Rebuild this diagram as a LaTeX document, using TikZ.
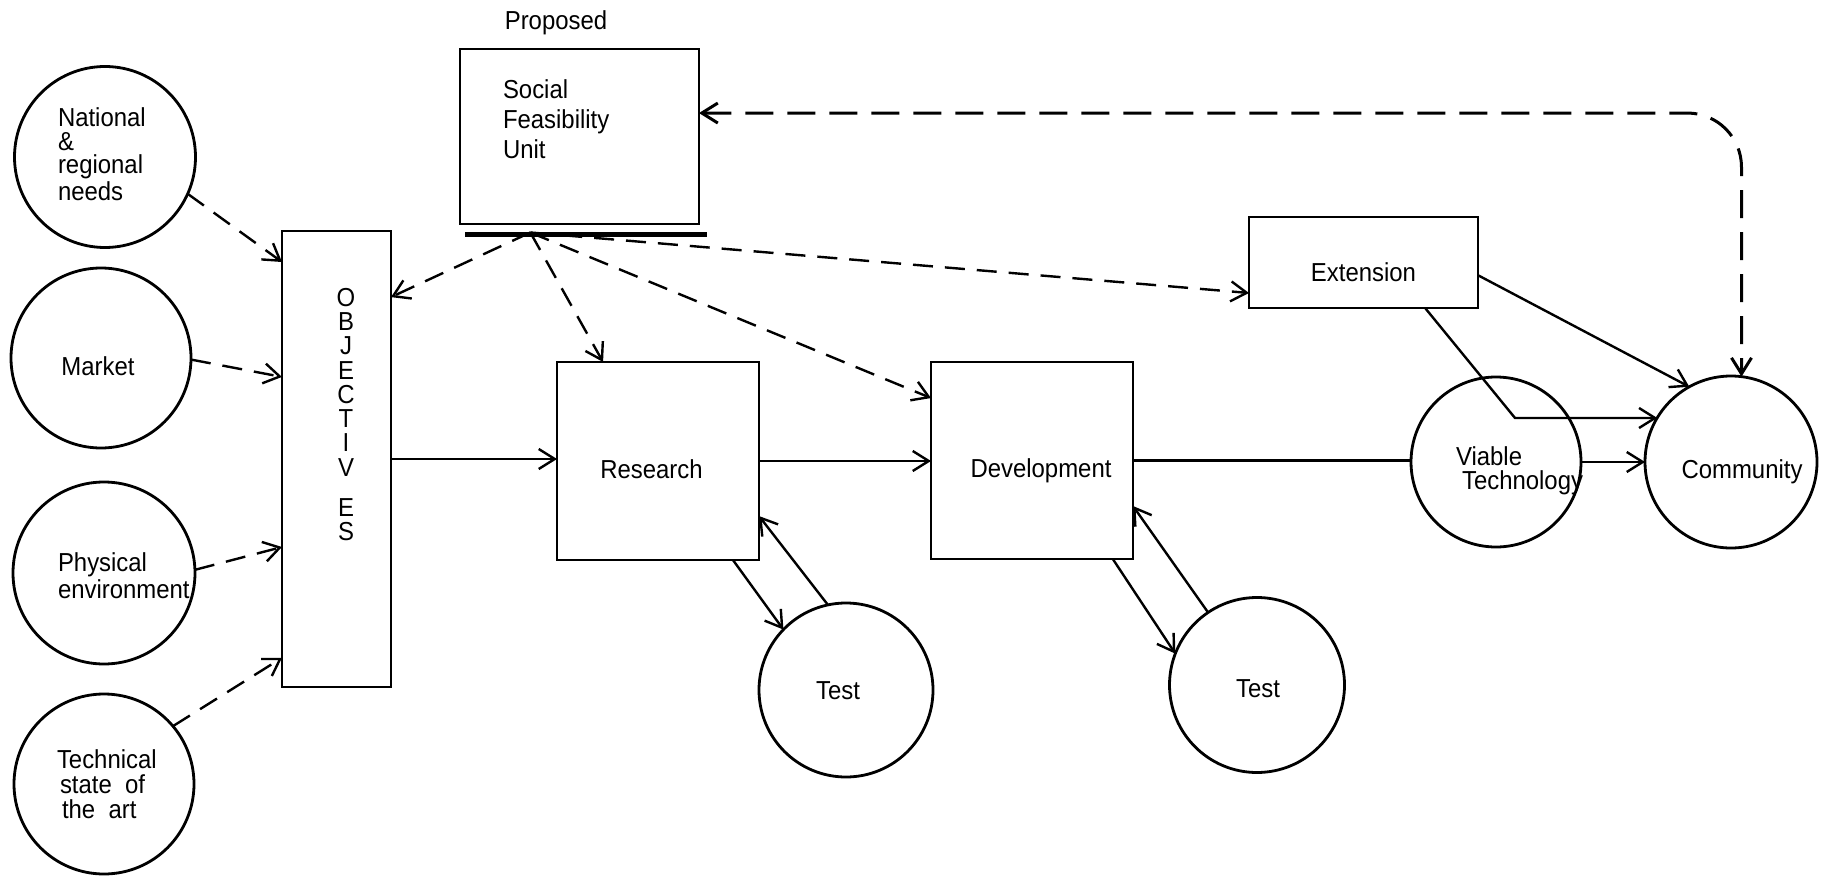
\documentclass[tikz,border=0pt]{standalone}
\usepackage{fontspec}
\setmainfont{Liberation Sans}[FakeStretch=0.92]
\usetikzlibrary{arrows.meta,calc}
\begin{document}
\begin{tikzpicture}[x=0.5pt,y=-0.5pt,
  every node/.style={inner sep=0pt, outer sep=0pt, font=\fontsize{13pt}{15pt}\selectfont},
  rbox/.style={draw, rectangle, line width=1.4pt},
  ring/.style={draw, circle, line width=1.4pt},
  arr/.style={line width=1.2pt, -{Straight Barb[length=8pt,width=10pt]}},
  darr/.style={arr, dash pattern=on 10pt off 6pt},
  fb/.style={line width=1.5pt, dash pattern=on 14pt off 7pt, rounded corners=27pt,
    {Straight Barb[length=8pt,width=10pt]}-{Straight Barb[length=8pt,width=10pt]}},
  plain/.style={line width=1.2pt}
]
\path[fill=white, use as bounding box] (0,0) rectangle (1825,877);

% shapes
\node[ring, minimum size=90.5pt] (national) at (105,157) {};
\node[ring, minimum size=90pt] (market) at (101,358) {};
\node[ring, minimum size=91pt] (physical) at (104,573) {};
\node[ring, minimum size=90pt] (technical) at (104,784) {};
\node[rbox, minimum width=54.5pt, minimum height=228pt] (obj) at (336.5,459) {};
\node[rbox, minimum width=119.5pt, minimum height=87.5pt] (sfu) at (579.5,136.5) {};
\node[fill=black, minimum width=121pt, minimum height=2.5pt] (bar) at (586,235) {};
\node[rbox, minimum width=101pt, minimum height=99pt] (research) at (658,461) {};
\node[rbox, minimum width=101pt, minimum height=98.5pt] (dev) at (1032,460.5) {};
\node[rbox, minimum width=114.5pt, minimum height=45.5pt] (ext) at (1363.5,262.5) {};
\node[ring, minimum size=87pt] (test1) at (846,690) {};
\node[ring, minimum size=87.5pt] (test2) at (1257,685) {};
\node[ring, minimum size=85pt] (viable) at (1496,462) {};
\node[ring, minimum size=86pt] (community) at (1731,462) {};

% texts
\node[anchor=base] (proposedT) at (556,30) {Proposed};
\node[anchor=north west, align=left, font=\fontsize{13pt}{15pt}\selectfont] (sfuT) at (503,80) {Social\\Feasibility\\Unit};
\node[anchor=north west, align=left, font=\fontsize{13pt}{11.75pt}\selectfont] (nationalT) at (58,108) {National\\\&\\regional\\needs};
\node[anchor=base] (marketT) at (98,375) {Market};
\node[anchor=north west, align=left, font=\fontsize{13pt}{13.5pt}\selectfont] (physicalT) at (58,553) {Physical\\environment};
\node[anchor=north west, align=left, font=\fontsize{13pt}{12.5pt}\selectfont] (technicalT) at (57,750) {Technical\\\hspace*{1.5pt}state\ \ of\\\hspace*{2.5pt}the\ \ art};
\node[anchor=north, align=center, font=\fontsize{13pt}{12.15pt}\selectfont] (objT) at (346,288) {O\\B\\J\\E\\C\\T\\I\\V\\[8pt]E\\S};
\node[anchor=base] (researchT) at (651.5,478) {Research};
\node[anchor=base] (devT) at (1041,477) {Development};
\node[anchor=base] (extT) at (1363.5,282) {Extension};
\node[anchor=base] (test1T) at (838,699) {Test};
\node[anchor=base] (test2T) at (1258,697) {Test};
\node[anchor=base] (communityT) at (1742,478) {Community};
\node[anchor=north west, align=left, font=\fontsize{13pt}{12pt}\selectfont] (viableT) at (1456,447) {Viable\\\hspace*{3pt}Technology};

% connectors
\coordinate (src) at ($(bar.north west)!0.27!(bar.north east)$);
\coordinate (kink) at (1515,418);

\draw[darr] (national.-24) -- ($(obj.north west)!0.068!(obj.south west)$);
\draw[darr] (market.-1) -- ($(obj.north west)!0.32!(obj.south west)$);
\draw[darr] (physical.2) -- ($(obj.north west)!0.693!(obj.south west)$);
\draw[darr] (technical.40) -- ($(obj.north west)!0.936!(obj.south west)$);

\draw[darr] (src) -- ($(obj.north east)!0.145!(obj.south east)$);
\draw[darr] (src) -- ($(research.north west)!0.228!(research.north east)$);
\draw[darr] (src) -- ($(dev.north west)!0.183!(dev.south west)$);
\draw[darr] (src) -- ($(ext.north west)!0.835!(ext.south west)$);

\draw[arr] (obj.east) -- (obj.east -| research.west);
\draw[arr] (research.east) -- (research.east -| dev.west);
\draw[plain] (dev.east) -- (dev.east -| viable.west);
\draw[arr] (viable.east) -- (viable.east -| community.west);

\draw[arr] ($(research.south west)!0.871!(research.south east)$) -- (test1.136);
\draw[arr] (test1.102) -- ($(research.north east)!0.778!(research.south east)$);
\draw[arr] ($(dev.south west)!0.9!(dev.south east)$) -- (test2.159);
\draw[arr] (test2.124) -- ($(dev.north east)!0.731!(dev.south east)$);

\draw[arr] ($(ext.north east)!0.64!(ext.south east)$) -- (community.119);
\draw[arr] ($(ext.south west)!0.769!(ext.south east)$) -- (kink) -- (kink -| community.149);

\draw[fb] ($(sfu.north east)!0.366!(sfu.south east)$) -| (community.83);
\end{tikzpicture}
\end{document}
